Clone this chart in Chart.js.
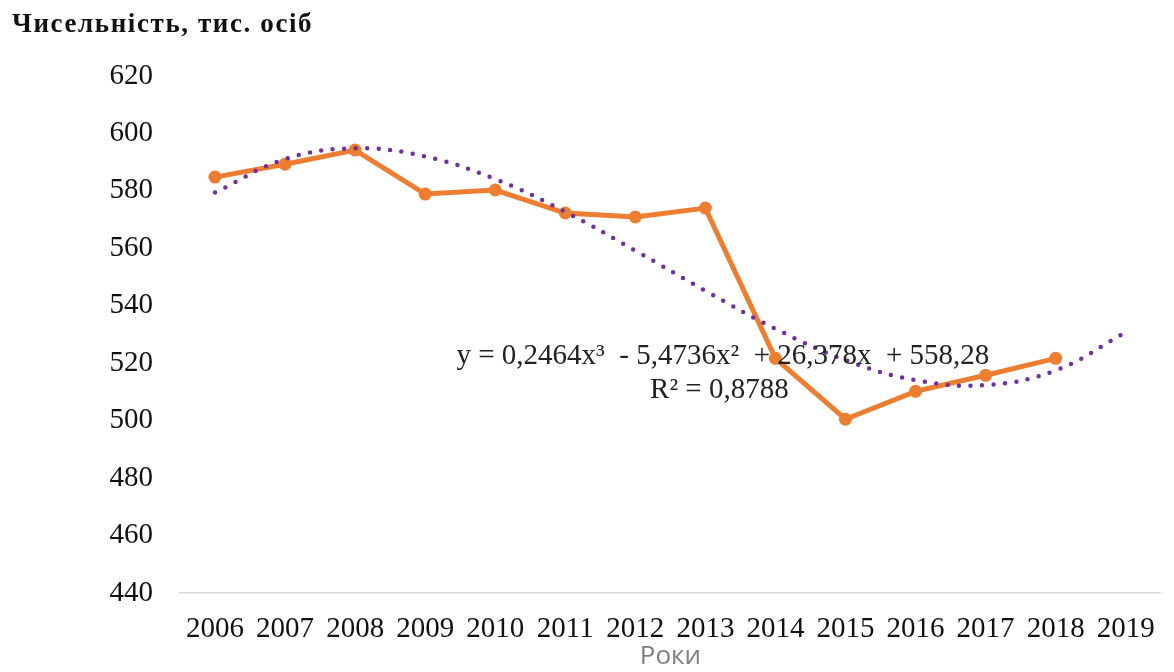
<!DOCTYPE html>
<html lang="uk">
<head>
    <meta charset="UTF-8">
    <title>Чисельність, тис. осіб</title>
    <script src="https://cdn.jsdelivr.net/npm/chart.js"></script>
    <style>
        html, body { margin: 0; padding: 0; background: #fff; overflow: hidden; }
        canvas { display: block; }
    </style>
</head>
<body>
<canvas id="popChart" width="1174" height="672"></canvas>

<script>
    // Years on the x axis
    const years = ['2006', '2007', '2008', '2009', '2010', '2011', '2012',
                   '2013', '2014', '2015', '2016', '2017', '2018', '2019'];

    // Population, thousand persons (no value for 2019)
    const population = [584.8, 589.3, 594.2, 578.9, 580.3, 572.3, 570.9,
                        574.0, 521.7, 500.5, 510.2, 515.8, 521.7, null];

    // Polynomial trend line
    const trendValues = [579.4, 591.1, 594.8, 592.0, 584.1, 572.7, 559.2,
                         545.2, 532.0, 521.1, 514.1, 512.4, 517.5, 530.8];

    const yTicks = [440, 460, 480, 500, 520, 540, 560, 580, 600, 620];

    const titleText = 'Чисельність, тис. осіб';
    const xTitleText = 'Роки';
    const equationText = 'y = 0,2464x³  - 5,4736x²  + 26,378x  + 558,28';
    const r2Text = 'R² = 0,8788';

    const serif = '"Liberation Serif", "Times New Roman", serif';

    // Draws the header text and the trend equation
    const textPlugin = {
        id: 'textPlugin',
        afterDatasetsDraw(chart) {
            const ctx = chart.ctx;
            const x = chart.scales.x;
            const y = chart.scales.y;
            ctx.save();
            ctx.fillStyle = '#111';
            ctx.font = 'bold 27px ' + serif;
            ctx.textAlign = 'left';
            ctx.textBaseline = 'alphabetic';
            if ('letterSpacing' in ctx) ctx.letterSpacing = '1.6px';
            ctx.fillText(titleText, 12, 32);
            if ('letterSpacing' in ctx) ctx.letterSpacing = '0px';

            ctx.font = '29px ' + serif;
            ctx.fillStyle = '#222';
            ctx.textAlign = 'center';
            ctx.textBaseline = 'middle';
            ctx.fillText(equationText, x.getPixelForValue(7.25), y.getPixelForValue(522.5));
            ctx.fillText(r2Text, x.getPixelForValue(7.2), y.getPixelForValue(510.5));
            ctx.restore();
        }
    };

    window.onload = function() {
        const ctx = document.getElementById('popChart').getContext('2d');
        new Chart(ctx, {
            type: 'line',
            data: {
                labels: years,
                datasets: [
                    {
                        label: 'Тренд',
                        data: trendValues,
                        borderColor: '#7030A0',
                        borderWidth: 4.5,
                        borderDash: [0, 11.5],
                        borderCapStyle: 'round',
                        pointRadius: 0,
                        tension: 0.4,
                        fill: false,
                        order: 0
                    },
                    {
                        label: 'Чисельність',
                        data: population,
                        borderColor: '#ED7D31',
                        backgroundColor: '#ED7D31',
                        borderWidth: 5,
                        pointRadius: 6.5,
                        pointBorderWidth: 0,
                        pointBackgroundColor: '#ED7D31',
                        tension: 0,
                        fill: false,
                        order: 1
                    }
                ]
            },
            options: {
                responsive: false,
                animation: false,
                layout: { padding: { top: 76, right: 8, left: 0, bottom: 0 } },
                plugins: {
                    legend: { display: false },
                    tooltip: { enabled: false }
                },
                scales: {
                    x: {
                        offset: true,
                        grid: { display: false, drawTicks: false },
                        border: { display: true, color: '#d9d9d9', width: 1.5 },
                        ticks: {
                            autoSkip: false,
                            maxRotation: 0,
                            padding: 19,
                            color: '#111',
                            font: { family: serif, size: 29 }
                        },
                        title: {
                            display: true,
                            text: xTitleText,
                            color: '#7f7f7f',
                            padding: { top: 0, bottom: 0 },
                            font: { family: '"Open Sans", "Noto Sans", sans-serif', size: 26 }
                        },
                        afterFit(scale) { scale.height = 79; }
                    },
                    y: {
                        min: 440,
                        max: 620,
                        grid: { display: false, drawTicks: false },
                        border: { display: false },
                        afterBuildTicks(scale) { scale.ticks = yTicks.map(v => ({ value: v })); },
                        ticks: {
                            padding: 27,
                            color: '#111',
                            font: { family: serif, size: 29 }
                        },
                        afterFit(scale) { scale.width = 180; }
                    }
                }
            },
            plugins: [textPlugin]
        });
    };
</script>
</body>
</html>
